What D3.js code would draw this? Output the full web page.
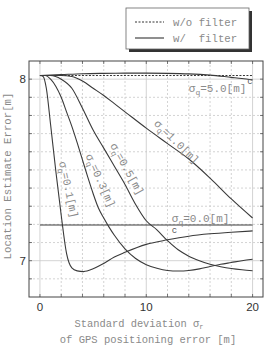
<!DOCTYPE html>
<html>
<head>
<meta charset="utf-8">
<script src="https://cdn.jsdelivr.net/npm/d3@7"></script>
<style>
  body { margin: 0; background: #fff; }
  svg { display: block; }
</style>
</head>
<body>
<script>
// values
var noFilter = [[0, 8.02], [20, 8.02]];
var sq00 = [[0, 7.197], [20, 7.197]];
var sq01 = [[0, 8.02], [0.3, 8.015], [0.6, 7.95], [1.0, 7.75], [1.5, 7.49], [2.0, 7.25], [2.5, 7.04],
            [3.0, 6.96], [3.5, 6.944], [4.1, 6.94], [5, 6.955], [6, 6.985], [7, 7.02], [8, 7.046],
            [10, 7.09], [12, 7.115], [14, 7.135], [16, 7.148], [18, 7.157], [20, 7.164]];
var sq03 = [[0, 8.02], [0.5, 8.02], [1, 8.0], [1.5, 7.96], [2, 7.9], [2.5, 7.82], [3, 7.74], [3.5, 7.65],
            [4, 7.555], [4.5, 7.46], [5, 7.37], [5.5, 7.29], [6, 7.235], [6.5, 7.185], [7, 7.14], [8, 7.065],
            [9, 7.012], [10, 6.978], [11, 6.958], [12, 6.946], [13, 6.943], [14, 6.946], [15, 6.955],
            [16, 6.968], [17, 6.98], [18, 6.99], [19, 7.0], [20, 7.008]];
var sq05 = [[0, 8.02], [1, 8.02], [2, 8.0], [3, 7.95], [4, 7.84], [5, 7.72], [6, 7.62], [7, 7.52],
            [8, 7.42], [9, 7.31], [10, 7.22], [11, 7.17], [12, 7.11], [13, 7.06], [14, 7.025], [15, 7.0],
            [16, 6.98], [17, 6.967], [18, 6.957], [19, 6.95], [20, 6.945]];
var sq10 = [[0, 8.02], [2, 8.02], [3, 8.015], [4, 7.99], [5, 7.95], [6, 7.91], [7, 7.865], [8, 7.82],
            [10, 7.73], [12, 7.645], [14, 7.56], [16, 7.455], [18, 7.34], [20, 7.235]];
var sq50 = [[0, 8.02], [2, 8.025], [4, 8.03], [6, 8.032], [8, 8.033], [10, 8.033], [12, 8.032],
            [14, 8.029], [16, 8.022], [18, 8.01], [19, 8.004], [20, 7.996]];

var xTicks = [0, 10, 20];
var yTicks = [7, 8];
var xMinor = d3.range(0, 21, 2);
var yMinor = d3.range(6.9, 8.1, 0.1).map(function(v) { return +v.toFixed(1); });

function draw() {
  var width = 268, height = 346;
  var pl = 29, pr = 263, pt = 61, pb = 297;

  var x = d3.scaleLinear().domain([-1.03, 20.98]).range([pl, pr]);
  var y = d3.scaleLinear().domain([6.8, 8.1]).range([pb, pt]);

  var mono = "'Liberation Mono', 'Courier New', monospace";
  var grey = "#8a8a8a";

  var svg = d3.select("body").append("svg")
      .attr("width", width)
      .attr("height", height);

  // grid
  svg.append("g").selectAll("line")
      .data(xMinor)
      .enter().append("line")
      .attr("x1", d => x(d)).attr("x2", d => x(d))
      .attr("y1", pt).attr("y2", pb)
      .attr("stroke", "#c8c8c8")
      .attr("stroke-width", 0.8)
      .attr("stroke-dasharray", d => xTicks.indexOf(d) >= 0 ? null : "2,2");

  svg.append("g").selectAll("line")
      .data(yMinor)
      .enter().append("line")
      .attr("x1", pl).attr("x2", pr)
      .attr("y1", d => y(d)).attr("y2", d => y(d))
      .attr("stroke", "#c8c8c8")
      .attr("stroke-width", 0.8)
      .attr("stroke-dasharray", d => yTicks.indexOf(d) >= 0 ? null : "2,2");

  // inward ticks
  var tk = svg.append("g").attr("stroke", "#555").attr("stroke-width", 0.8);
  xMinor.forEach(function(d) {
    tk.append("line").attr("x1", x(d)).attr("x2", x(d)).attr("y1", pt).attr("y2", pt + 3);
    tk.append("line").attr("x1", x(d)).attr("x2", x(d)).attr("y1", pb).attr("y2", pb - 3);
  });
  yMinor.forEach(function(d) {
    tk.append("line").attr("x1", pl).attr("x2", pl + 3).attr("y1", y(d)).attr("y2", y(d));
    tk.append("line").attr("x1", pr).attr("x2", pr - 3).attr("y1", y(d)).attr("y2", y(d));
  });

  // frame
  svg.append("rect")
      .attr("x", pl).attr("y", pt)
      .attr("width", pr - pl).attr("height", pb - pt)
      .attr("fill", "none").attr("stroke", "#444").attr("stroke-width", 1);

  // tick labels
  svg.append("g").selectAll("text")
      .data(xTicks)
      .enter().append("text")
      .attr("x", d => x(d)).attr("y", pb + 14)
      .attr("text-anchor", "middle")
      .attr("font-family", "'Liberation Sans', Arial, sans-serif")
      .attr("font-size", 11.5)
      .attr("fill", "#333")
      .text(d => d);

  svg.append("g").selectAll("text")
      .data(yTicks)
      .enter().append("text")
      .attr("x", pl - 3).attr("y", d => y(d) + 4)
      .attr("text-anchor", "end")
      .attr("font-family", "'Liberation Sans', Arial, sans-serif")
      .attr("font-size", 11.5)
      .attr("fill", "#333")
      .text(d => d);

  // curves
  var line = d3.line()
      .x(d => x(d[0]))
      .y(d => y(d[1]))
      .curve(d3.curveMonotoneX);

  svg.append("path")
      .datum(noFilter)
      .attr("d", line)
      .attr("fill", "none").attr("stroke", "#333").attr("stroke-width", 1)
      .attr("stroke-dasharray", "2,1.5");

  [sq00, sq01, sq03, sq05, sq10, sq50].forEach(function(s) {
    svg.append("path")
        .datum(s)
        .attr("d", line)
        .attr("fill", "none").attr("stroke", "#3a3a3a").attr("stroke-width", 1.1);
  });

  // curve labels
  function sigLabel(px, py, angle, val) {
    var t = svg.append("text")
        .attr("transform", "translate(" + px + "," + py + ") rotate(" + angle + ")")
        .attr("font-family", mono)
        .attr("font-size", 11)
        .attr("fill", grey);
    t.append("tspan").text("σ");
    t.append("tspan").attr("font-size", 8).attr("dy", 3).text("q");
    t.append("tspan").attr("dy", -3).text("=" + val + "[m]");
  }
  sigLabel(x(14.0), y(7.93), 0, "5.0");
  sigLabel(x(12.4), y(7.215), 0, "0.0");
  sigLabel(x(10.2) + 5, y(7.79) + 7, 44, "1.0");
  sigLabel(x(6.3) + 3, y(7.69) + 10, 61, "0.5");
  sigLabel(x(4.1) + 2, y(7.65) + 13, 66, "0.3");
  sigLabel(x(1.7) + 1, y(7.62) + 14, 78, "0.1");

  // little leader marks
  svg.append("text").attr("x", x(19.5)).attr("y", y(7.988) + 3)
      .attr("font-family", mono).attr("font-size", 9).attr("fill", "#555").text("c");
  svg.append("text").attr("x", x(12.4)).attr("y", y(7.18) + 5)
      .attr("font-family", mono).attr("font-size", 9).attr("fill", "#555").text("c");

  // axis titles
  svg.append("text")
      .attr("transform", "translate(11,176) rotate(-90)")
      .attr("text-anchor", "middle")
      .attr("font-family", mono)
      .attr("font-size", 10.7)
      .attr("fill", grey)
      .text("Location Estimate Error[m]");

  var xt = svg.append("text")
      .attr("x", 139).attr("y", 327)
      .attr("text-anchor", "middle")
      .attr("font-family", mono)
      .attr("font-size", 10.4)
      .attr("fill", grey);
  xt.append("tspan").text("Standard deviation σ");
  xt.append("tspan").attr("font-size", 7).attr("dy", 2).text("r");

  svg.append("text")
      .attr("x", 148).attr("y", 343)
      .attr("text-anchor", "middle")
      .attr("font-family", mono)
      .attr("font-size", 10.5)
      .attr("fill", grey)
      .text("of GPS positioning error [m]");

  // legend
  var lg = svg.append("g");
  lg.append("rect").attr("x", 129).attr("y", 11).attr("width", 123).attr("height", 41).attr("fill", "#333");
  lg.append("rect").attr("x", 126).attr("y", 8).attr("width", 123).attr("height", 41)
      .attr("fill", "#fff").attr("stroke", "#666").attr("stroke-width", 0.8);
  lg.append("line").attr("x1", 135).attr("x2", 164).attr("y1", 22).attr("y2", 22)
      .attr("stroke", "#333").attr("stroke-width", 1).attr("stroke-dasharray", "2,1.5");
  lg.append("line").attr("x1", 135).attr("x2", 164).attr("y1", 38).attr("y2", 38)
      .attr("stroke", "#333").attr("stroke-width", 1.1);
  lg.append("text").attr("x", 173).attr("y", 25.5)
      .attr("font-family", mono).attr("font-size", 10.7).attr("fill", grey)
      .style("white-space", "pre").text("w/o filter");
  lg.append("text").attr("x", 173).attr("y", 41.5)
      .attr("font-family", mono).attr("font-size", 10.7).attr("fill", grey)
      .style("white-space", "pre").text("w/  filter");
}
draw();
</script>
</body>
</html>
